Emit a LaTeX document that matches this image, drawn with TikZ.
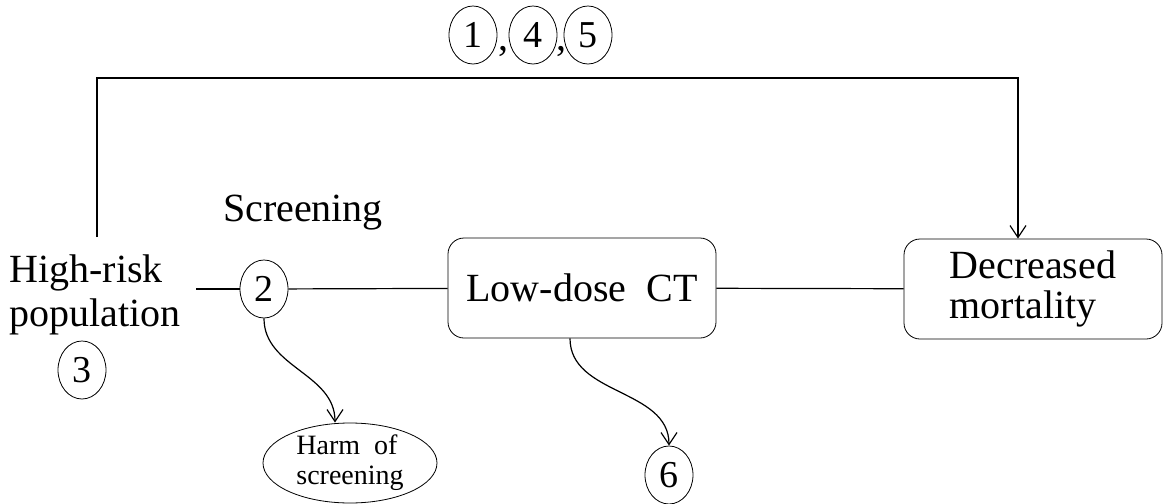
\documentclass[tikz,border=0pt]{standalone}
\usepackage{fontspec}
\setmainfont{Liberation Serif}
\usetikzlibrary{shapes.geometric,arrows.meta}

\begin{document}
\begin{tikzpicture}[x=0.5pt,y=-0.5pt,
  num/.style={draw,ellipse,inner sep=0pt,minimum width=24pt,minimum height=29pt,font=\fontsize{19}{19}\selectfont},
  box/.style={draw,rounded corners=8pt,minimum height=50pt,font=\fontsize{20}{20}\selectfont},
  txt/.style={font=\fontsize{20}{22}\selectfont,align=left},
  link/.style={line width=0.6pt},
  arr/.style={line width=0.6pt,-{Straight Barb[length=6pt,width=8pt]}}]
\useasboundingbox (0,0) rectangle (1164,504);
% main line
\node[txt] (hr) at (95,295) {High-risk\\population};
\node[num] (n3) at (82,370) {3};
\node[txt] (scr) at (303,213) {Screening};
\node[num] (n2) at (264,289) {2};
\node[box,minimum width=134pt] (ct) at (582,288) {Low-dose\ \ CT};
\node[box,minimum width=129pt,align=left] (dm) at (1033,289) {Decreased\\mortality};
\coordinate (hrr) at (196,289);
\draw[link] (hrr) -- (n2);
\draw[link] (n2) -- (ct);
\draw[link] (ct) -- (dm);
% top loop
\node[num] (n1) at (473,35) {1};
\node[num] (n4) at (533,35) {4};
\node[num] (n5) at (588,35) {5};
\node[txt,inner sep=0pt] at (503,52) {,};
\node[txt,inner sep=0pt] at (561,52) {,};
\coordinate (top) at (1018,78);
\coordinate (hrt) at (97,237);
\draw[arr] (hrt) |- (top) -- (top |- dm.north);
% harms
\node[draw,ellipse,inner sep=0pt,minimum width=87pt,minimum height=40pt,align=left,
  font=\fontsize{14}{15}\selectfont] (harm) at (350,463) {Harm\ \ of\\screening};
\node[num] (n6) at (669,475) {6};
\draw[arr] (n2.south) to[out=-90,in=90] (harm.north -| 335,0);
\draw[arr] (ct.south -| 570,0) to[out=-90,in=90] (n6.north);
\end{tikzpicture}
\end{document}
